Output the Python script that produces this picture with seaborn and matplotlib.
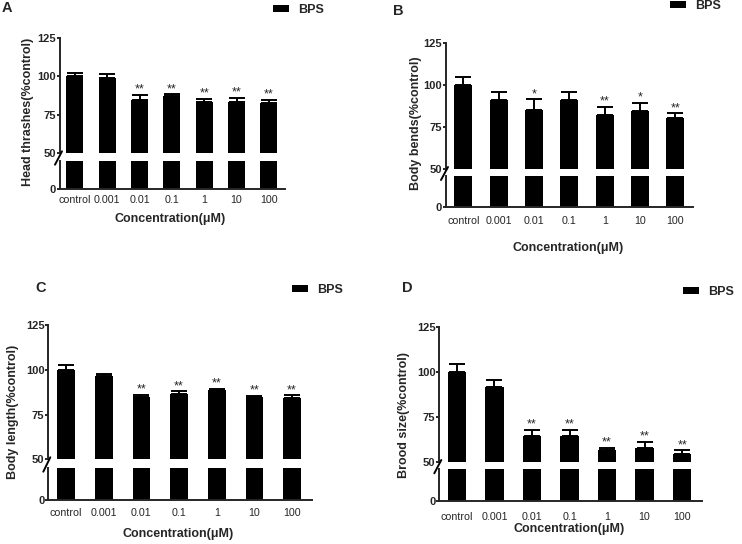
import matplotlib
matplotlib.use("Agg")
import matplotlib.pyplot as plt
from matplotlib.lines import Line2D
from matplotlib.patches import Patch
import seaborn as sns
import numpy as np

# ---------------- data ----------------
categories = ["control", "0.001", "0.01", "0.1", "1", "10", "100"]

head_thrashes = [100.0, 99.1, 84.9, 87.3, 83.2, 83.4, 82.5]
head_thrashes_err = [2.0, 2.2, 3.0, 1.1, 2.1, 2.8, 2.2]
head_thrashes_sig = ["", "", "**", "**", "**", "**", "**"]

body_bends = [100.0, 91.0, 85.0, 91.0, 82.0, 84.3, 80.0]
body_bends_err = [4.4, 5.0, 6.5, 4.6, 4.9, 5.0, 3.0]
body_bends_sig = ["", "", "*", "", "**", "*", "**"]

body_length = [100.0, 96.6, 84.9, 86.8, 88.6, 84.7, 84.5]
body_length_err = [2.6, 1.2, 1.1, 1.3, 0.8, 0.9, 1.3]
body_length_sig = ["", "", "**", "**", "**", "**", "**"]

brood_size = [100.0, 91.7, 64.6, 64.6, 56.5, 57.6, 54.6]
brood_size_err = [4.6, 4.0, 3.2, 3.2, 1.5, 3.7, 2.0]
brood_size_sig = ["", "", "**", "**", "**", "**", "**"]

upper_ticks = [50, 75, 100, 125]
lower_ticks = [0]
panel_letters = ["A", "B", "C", "D"]
y_titles = ["Head thrashes(%control)", "Body bends(%control)",
            "Body length(%control)", "Brood size(%control)"]
x_title = "Concentration(\u03bcM)"
series_name = "BPS"

# ---------------- style ----------------
sns.set_style("ticks")
plt.rcParams["font.family"] = ["Liberation Sans", "DejaVu Sans"]
LW = 1.4
plt.rcParams["axes.linewidth"] = LW

W, H = 742, 544
fig = plt.figure(figsize=(W / 100, H / 100), dpi=100)


def fx(x):
    return x / W


def fy(y):
    return 1 - y / H


panels = [
    dict(vals=head_thrashes, err=head_thrashes_err, sig=head_thrashes_sig,
         left=60, right=285, top=37.7, up_bot=153.3, low_top=160.7, bot=188.7,
         xlim=(-0.46, 6.5), bw=0.52, leg=(273, 10), letter=(7, 8),
         ylab=(28, 112), xlab=(170, 219), xpad=4.5),
    dict(vals=body_bends, err=body_bends_err, sig=body_bends_sig,
         left=446, right=693, top=42.7, up_bot=169, low_top=176, bot=206.7,
         xlim=(-0.49, 6.5), bw=0.51, leg=(670, 6), letter=(398, 11),
         ylab=(416, 123), xlab=(568, 248), xpad=7),
    dict(vals=body_length, err=body_length_err, sig=body_length_sig,
         left=48.3, right=311.7, top=325.3, up_bot=459.3, low_top=467.7, bot=499.7,
         xlim=(-0.47, 6.52), bw=0.47, leg=(292, 290), letter=(41, 288),
         ylab=(12.7, 412), xlab=(178, 533.7), xpad=6),
    dict(vals=brood_size, err=brood_size_err, sig=brood_size_sig,
         left=439.3, right=702, top=327, up_bot=462, low_top=469.3, bot=501.3,
         xlim=(-0.47, 6.53), bw=0.49, leg=(683, 292), letter=(407, 288),
         ylab=(404, 415), xlab=(569, 529), xpad=7.5),
]

for i, p in enumerate(panels):
    ax_up = fig.add_axes([fx(p["left"]), fy(p["up_bot"]),
                          fx(p["right"] - p["left"]), (p["up_bot"] - p["top"]) / H])
    ax_lo = fig.add_axes([fx(p["left"]), fy(p["bot"]),
                          fx(p["right"] - p["left"]), (p["bot"] - p["low_top"]) / H])
    for ax in (ax_up, ax_lo):
        sns.barplot(x=categories, y=p["vals"], order=categories, color="black",
                    saturation=1, width=p["bw"], ax=ax, edgecolor="none",
                    errorbar=None)
        ax.set_xlim(*p["xlim"])
    pos = np.arange(len(categories))
    ax_up.errorbar(pos, p["vals"], yerr=[np.zeros(len(pos)), p["err"]],
                   fmt="none", ecolor="black", elinewidth=LW, capsize=5.5,
                   capthick=LW)
    tops = np.array(p["vals"]) + np.array(p["err"])
    for x, t, s in zip(pos, tops, p["sig"]):
        if s:
            ax_up.annotate(s, (x, t), xytext=(0, 1.5), textcoords="offset points",
                           ha="center", va="baseline", fontsize=9)

    ax_up.set_ylim(50, 125)
    ax_up.set_yticks(upper_ticks)
    ax_lo.set_ylim(0, 50)
    ax_lo.set_yticks(lower_ticks)
    for ax in (ax_up, ax_lo):
        ax.spines["top"].set_visible(False)
        ax.spines["right"].set_visible(False)
        ax.set_xlabel("")
        ax.set_ylabel("")
        ax.tick_params(axis="y", length=2.5, width=LW, pad=0.3, labelsize=8)
        for lab in ax.get_yticklabels():
            lab.set_fontweight("bold")
    ax_up.spines["bottom"].set_visible(False)
    ax_up.tick_params(axis="x", bottom=False, labelbottom=False)
    ax_lo.tick_params(axis="x", length=0, pad=p["xpad"], labelsize=7.7)

    # break mark
    fig.add_artist(Line2D([fx(p["left"] - 5), fx(p["left"] + 2)],
                          [fy(p["low_top"] + 4), fy(p["up_bot"] - 2)],
                          color="black", lw=LW))

    fig.text(fx(p["letter"][0]), fy(p["letter"][1]), panel_letters[i],
             fontsize=10.5, fontweight="bold", ha="center", va="center")
    fig.text(fx(p["ylab"][0]), fy(p["ylab"][1]), y_titles[i], rotation=90,
             fontsize=9, fontweight="bold", ha="center", va="center")
    fig.text(fx(p["xlab"][0]), fy(p["xlab"][1]), x_title,
             fontsize=9, fontweight="bold", ha="center", va="center")
    fig.legend(handles=[Patch(facecolor="black", edgecolor="none", label=series_name)],
               loc="center left", bbox_to_anchor=(fx(p["leg"][0]), fy(p["leg"][1])),
               bbox_transform=fig.transFigure, frameon=False, borderpad=0,
               borderaxespad=0, handlelength=1.28, handleheight=0.5,
               handletextpad=0.72, prop=dict(size=9, weight="bold"))

fig.savefig("out.png", dpi=100)
